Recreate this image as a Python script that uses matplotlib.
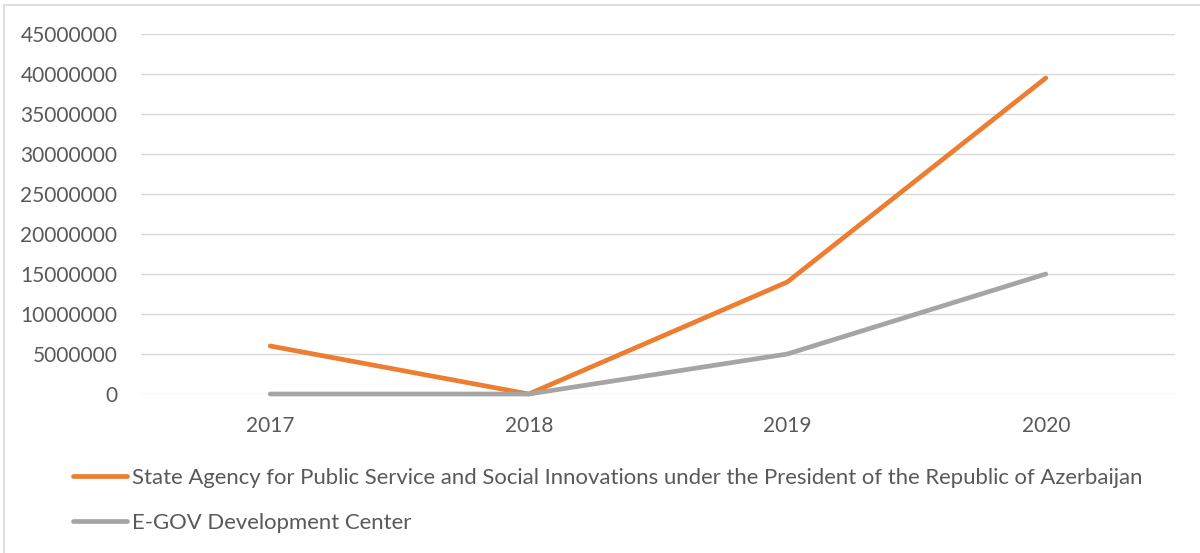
import matplotlib.pyplot as plt
from matplotlib.lines import Line2D

years = ["2017", "2018", "2019", "2020"]
state_agency = [6000000, 0, 14000000, 39500000]
egov_center = [0, 0, 5000000, 15000000]
labels = [
    "State Agency for Public Service and Social Innovations under the President of the Republic of Azerbaijan",
    "E-GOV Development Center",
]

plt.rcParams['font.family'] = ['Lato', 'DejaVu Sans']

fig = plt.figure(figsize=(12, 5.53), dpi=100)
ax = fig.add_axes([0.1175, 0.2875, 0.8617, 0.651])

x = range(len(years))
ax.plot(x, state_agency, color='#ED7D31', linewidth=3.4, solid_capstyle='round',
        solid_joinstyle='round', label=labels[0], clip_on=False, zorder=3)
ax.plot(x, egov_center, color='#A5A5A5', linewidth=3.4, solid_capstyle='round',
        solid_joinstyle='round', label=labels[1], clip_on=False, zorder=3)

ax.set_xlim(-0.5, 3.5)
ax.set_ylim(0, 45000000)
ax.set_yticks(range(0, 45000001, 5000000))
ax.set_yticklabels([str(v) for v in range(0, 45000001, 5000000)])
ax.set_xticks(list(x))
ax.set_xticklabels(years)
ax.grid(axis='y', color='#D9D9D9', linewidth=1.0)
ax.set_axisbelow(True)
for s in ax.spines.values():
    s.set_visible(False)
ax.tick_params(axis='both', length=0, labelsize=15, labelcolor='#595959')
ax.tick_params(axis='y', pad=17)
ax.tick_params(axis='x', pad=16)

fig.legend(loc='upper left', bbox_to_anchor=(73 / 1200, 1 - 468 / 553), frameon=False,
           fontsize=15.9, labelcolor='#595959', handlelength=2.45, handletextpad=0.2,
           borderpad=0, borderaxespad=0, labelspacing=1.12)

# thin chart border like the spreadsheet frame
fig.add_artist(Line2D([4 / 1200, 1], [1 - 5 / 553, 1 - 5 / 553], color='#D9D9D9', linewidth=1.2))
fig.add_artist(Line2D([4 / 1200, 4 / 1200], [0, 1 - 5 / 553], color='#D9D9D9', linewidth=1.2))

fig.savefig('out.png', dpi=100)
